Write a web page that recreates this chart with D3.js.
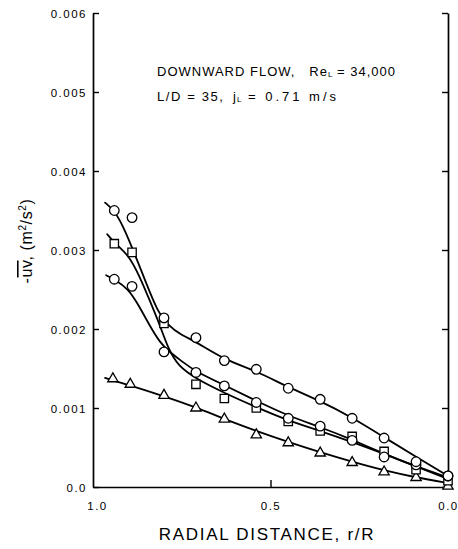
<!DOCTYPE html>
<html>
<head>
<meta charset="utf-8">
<script src="https://cdn.jsdelivr.net/npm/d3@7"></script>
<style>
  html, body { margin: 0; padding: 0; background: #fff; }
  svg { display: block; }
  text { font-family: "Liberation Sans", Arial, Helvetica, sans-serif; fill: #000; }
</style>
</head>
<body>
<svg id="chart" width="458" height="549"></svg>
<script>
// Radial stations (r/R) where the Reynolds shear stress was measured
const rStations   = [0.94, 0.89, 0.80, 0.71, 0.63, 0.54, 0.45, 0.36, 0.27, 0.18, 0.09, 0.00];
const rTriangles  = [0.944, 0.895, 0.80, 0.71, 0.63, 0.54, 0.45, 0.36, 0.27, 0.18, 0.09, 0.00];

// -uv values, m^2/s^2
const circlesUpper = [0.00350, 0.00341, 0.00214, 0.00189, 0.00160, 0.00149, 0.00125, 0.00111, 0.00087, 0.00062, 0.00032, 0.00014];
const squares      = [0.00308, 0.00297, 0.00207, 0.00130, 0.00112, 0.00100, 0.00083, 0.00071, 0.00064, 0.00045, 0.00022, 0.00008];
const circlesLower = [0.00263, 0.00254, 0.00171, 0.00145, 0.00128, 0.00107, 0.00087, 0.00077, 0.00059, 0.00038, 0.00028, 0.00014];
const triangles    = [0.00137, 0.00130, 0.00116, 0.00100, 0.00086, 0.00066, 0.00056, 0.00043, 0.00031, 0.00019, 0.00012, 0.00001];

// Hand-faired curves through each data set: [r/R, -uv]
const fitUpper = [[0.966,0.00360],[0.94,0.00350],[0.915,0.00330],[0.887,0.00300],[0.85,0.00258],[0.82,0.00224],
                  [0.79,0.00205],[0.75,0.00192],[0.71,0.00184],[0.63,0.00161],[0.54,0.00147],[0.45,0.00126],
                  [0.36,0.00109],[0.27,0.00088],[0.18,0.00063],[0.09,0.00038],[0.00,0.00014]];
const fitSquares = [[0.960,0.00320],[0.94,0.00309],[0.90,0.00294],[0.87,0.00268],[0.84,0.00236],[0.81,0.00203],
                    [0.787,0.00174],[0.76,0.00153],[0.71,0.00137],[0.63,0.00119],[0.54,0.00101],[0.45,0.00084],
                    [0.36,0.00071],[0.27,0.00057],[0.18,0.00042],[0.09,0.00026],[0.00,0.00010]];
const fitLower = [[0.963,0.00268],[0.94,0.00263],[0.90,0.00251],[0.87,0.00229],[0.84,0.00204],[0.81,0.00182],
                  [0.787,0.00172],[0.75,0.00159],[0.71,0.00146],[0.63,0.00129],[0.54,0.00109],[0.45,0.00090],
                  [0.36,0.00076],[0.27,0.00060],[0.18,0.00042],[0.09,0.00026],[0.00,0.00012]];
const fitTriangles = [[0.966,0.00138],[0.89,0.00128],[0.80,0.00115],[0.71,0.00101],[0.63,0.00086],[0.54,0.00071],
                      [0.45,0.00057],[0.36,0.00044],[0.27,0.00032],[0.18,0.00021],[0.09,0.00012],[0.00,0.00005]];

// Axis ticks and labels
const yTicks      = [0, 0.001, 0.002, 0.003, 0.004, 0.005, 0.006];
const yTickLabels = ["0.0", "0.001", "0.002", "0.003", "0.004", "0.005", "0.006"];
const xTicks      = [1.0, 0.5, 0.0];
const xTickLabels = ["1.0", "0.5", "0.0"];

const svg = d3.select("#chart");
const plot = { left: 93, right: 448, top: 13, bottom: 487 };

const x = d3.scaleLinear().domain([1, 0]).range([plot.left, plot.right]);
const y = d3.scaleLinear().domain([0, 0.006]).range([plot.bottom, plot.top]);

const tickFont = "11.5px";
const tickSpacing = "1.5px";

// Left axis with inward ticks
const gLeft = svg.append("g").attr("transform", `translate(${plot.left},0)`)
  .call(d3.axisLeft(y).tickValues(yTicks).tickSize(-6).tickSizeOuter(0).tickPadding(6)
        .tickFormat((d, i) => yTickLabels[i]));
// Right axis, ticks only
const gRight = svg.append("g").attr("transform", `translate(${plot.right},0)`)
  .call(d3.axisRight(y).tickValues(yTicks).tickSize(-6).tickSizeOuter(0).tickFormat(""));
// Bottom axis with a single interior tick at 0.5
const gBottom = svg.append("g").attr("transform", `translate(0,${plot.bottom})`)
  .call(d3.axisBottom(x).tickValues(xTicks).tickSize(-7).tickSizeOuter(0).tickPadding(15)
        .tickFormat((d, i) => xTickLabels[i]));

[gLeft, gRight, gBottom].forEach(g => {
  g.select(".domain").attr("stroke", "#000").attr("stroke-width", 1.7);
  g.selectAll(".tick line").attr("stroke", "#000").attr("stroke-width", 1.4);
  g.selectAll(".tick text")
    .style("font-size", tickFont).style("letter-spacing", tickSpacing)
    .attr("fill", "#000");
});
gLeft.selectAll(".tick text").attr("dy", "0.36em");
gBottom.selectAll(".tick").filter(d => d !== 0.5).select("line").remove();
gBottom.selectAll(".tick").filter(d => d === 1).select("text").attr("dx", 4);

// Faired curves
const line = d3.line()
  .x(d => x(d[0])).y(d => y(d[1]))
  .curve(d3.curveBasis);

const curves = svg.append("g").attr("fill", "none").attr("stroke", "#000")
  .attr("stroke-width", 1.8).attr("stroke-linecap", "round");
[fitUpper, fitSquares, fitLower, fitTriangles].forEach(f => curves.append("path").attr("d", line(f)));

// Data markers
const markers = svg.append("g").attr("fill", "#fff").attr("stroke", "#000").attr("stroke-width", 1.3);

function drawSymbol(rs, vals, type, size) {
  const sym = d3.symbol().type(type).size(size);
  markers.selectAll(null).data(vals.map((v, i) => [rs[i], v])).enter()
    .append("path")
    .attr("d", sym)
    .attr("transform", d => `translate(${x(d[0])},${y(d[1])})`);
}
drawSymbol(rTriangles, triangles, d3.symbolTriangle, 46);
drawSymbol(rStations, squares, d3.symbolSquare, 70);
drawSymbol(rStations, circlesLower, d3.symbolCircle, 72);
drawSymbol(rStations, circlesUpper, d3.symbolCircle, 72);

// Test-condition note (non-breaking spaces keep the wide gaps)
const sp = "\u00A0";
const note = svg.append("g").style("font-size", "13px").style("letter-spacing", "1px");
const l1 = note.append("text").attr("x", 157).attr("y", 76);
l1.append("tspan").text(`DOWNWARD FLOW,${sp}${sp}${sp}Re`);
l1.append("tspan").attr("dy", 1).style("font-size", "8px").style("letter-spacing", "0px").text("L");
l1.append("tspan").attr("dy", -1).text(`${sp}=${sp}34,000`);
const l2 = note.append("text").attr("x", 157).attr("y", 100.5);
l2.append("tspan").style("letter-spacing", "1.6px").text(`L/D${sp}=${sp}35,`);
l2.append("tspan").attr("x", 233).text("j");
l2.append("tspan").attr("dy", 1).style("font-size", "8px").style("letter-spacing", "0px").text("L");
l2.append("tspan").attr("dy", -1).style("letter-spacing", "3px").text(`${sp}=${sp}0.71${sp}m/s`);

// Axis titles
svg.append("text")
  .attr("x", 267).attr("y", 540).attr("text-anchor", "middle")
  .style("font-size", "17px").style("letter-spacing", "1.7px")
  .text("RADIAL DISTANCE, r/R");

const yTitle = svg.append("text")
  .attr("transform", "translate(32,241) rotate(-90)")
  .attr("text-anchor", "middle")
  .style("font-size", "16px").style("letter-spacing", "0.6px");
yTitle.append("tspan").text("-");
yTitle.append("tspan").style("text-decoration", "overline").text("uv");
yTitle.append("tspan").text(", (m");
yTitle.append("tspan").attr("dy", -6).style("font-size", "10px").text("2");
yTitle.append("tspan").attr("dy", 6).text("/s");
yTitle.append("tspan").attr("dy", -6).style("font-size", "10px").text("2");
yTitle.append("tspan").attr("dy", 6).text(")");
</script>
</body>
</html>
